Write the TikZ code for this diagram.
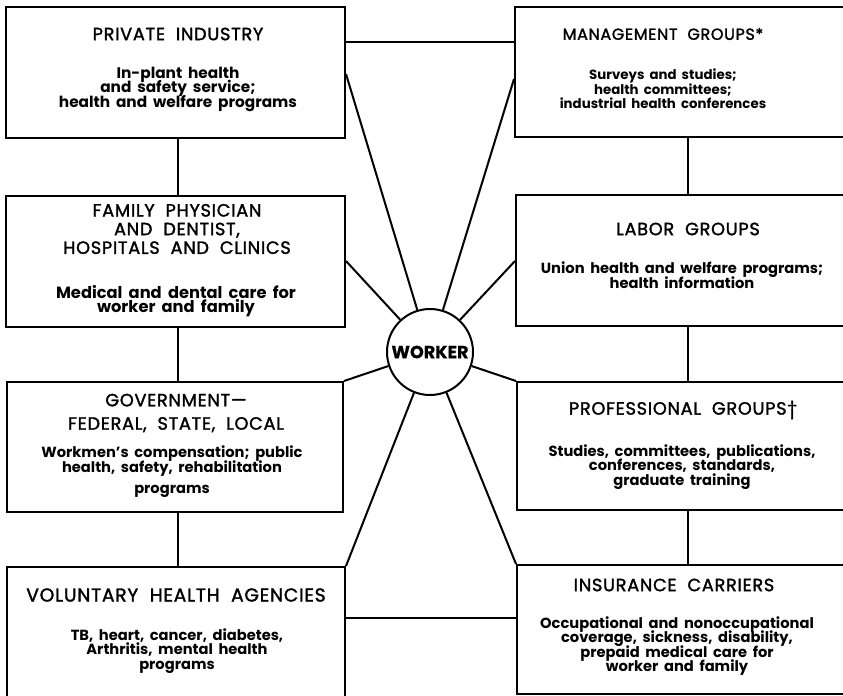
\documentclass[tikz,border=0pt]{standalone}
\usepackage{fontspec}
\setmainfont{Poppins}
\newfontfamily\ttlfont{Poppins}[LetterSpace=4, WordSpace=2, FakeBold=1.6]
\newfontfamily\bodyfont{Poppins}[WordSpace=1.8]
\newfontfamily\hubfont{Poppins}[FakeBold=0.5]
\newcommand\tightlines{\lineskiplimit=-20pt\relax\lineskip=0pt\relax}
\usetikzlibrary{fit}
\begin{document}
\begin{tikzpicture}[x=0.75pt,y=-0.75pt,
  box/.style={draw, line width=1.5pt, inner sep=0pt, rectangle},
  link/.style={line width=1.5pt},
  tt/.style={align=center, inner sep=0pt, font=\ttlfont\fontsize{#1}{14}\selectfont\tightlines},
  tt/.default=13.3,
  bd/.style={align=center, inner sep=0pt, font=\bodyfont\bfseries\fontsize{#1}{10.9}\selectfont\tightlines},
  bd/.default=11,
  hub/.style={circle, draw, line width=1.5pt, minimum size=64.5pt, inner sep=0pt,
    fill=white, font=\hubfont\bfseries\fontsize{13.2}{15}\selectfont}]
\useasboundingbox (0,0) rectangle (843,696);
\fill[white] (0,0) rectangle (843,696);
\clip (0,0) rectangle (843,696);

% boxes
\node[box, fit={(6,7)(345,138)}] (pi) {};
\node[box, fit={(6,196)(345,327)}] (fp) {};
\node[box, fit={(7,382)(343,512)}] (gv) {};
\node[box, fit={(7,567)(345,710)}] (va) {};
\node[box, fit={(515,7)(870,137)}] (mg) {};
\node[box, fit={(516,195)(870,326)}] (lb) {};
\node[box, fit={(517,382)(870,510)}] (pg) {};
\node[box, fit={(517,565)(870,694)}] (ic) {};

% hub
\node[hub] (w) at (430,352) {WORKER};

% level coordinates
\coordinate (yTop) at (0,42);
\coordinate (yBot) at (0,618);
\coordinate (xL) at (178,0);
\coordinate (xR) at (688,0);

% horizontal links
\draw[link] (pi.east |- yTop) -- (mg.west |- yTop);
\draw[link] (va.east |- yBot) -- (ic.west |- yBot);

% vertical links
\draw[link] (pi.south -| xL) -- (fp.north -| xL);
\draw[link] (fp.south -| xL) -- (gv.north -| xL);
\draw[link] (gv.south -| xL) -- (va.north -| xL);
\draw[link] (mg.south -| xR) -- (lb.north -| xR);
\draw[link] (lb.south -| xR) -- (pg.north -| xR);
\draw[link] (pg.south -| xR) -- (ic.north -| xR);

% spokes
\path (pi.north east) ++(0,68) coordinate (s1);
\path (fp.north east) ++(0,66) coordinate (s2);
\path (mg.north west) ++(0,73) coordinate (s5);
\path (lb.north west) ++(0,67) coordinate (s6);
\draw[link] (s1) -- (w);
\draw[link] (s2) -- (w);
\draw[link] (gv.north east) -- (w);
\draw[link] (va.north east) -- (w);
\draw[link] (s5) -- (w);
\draw[link] (s6) -- (w);
\draw[link] (pg.north west) -- (w);
\draw[link] (ic.north west) -- (w);

% texts
\node[tt] (piT) at (178,34) {PRIVATE INDUSTRY};
\node[bd=11.5] (piB) at (178,89) {In-plant health\\and safety service;\\health and welfare programs};

\node[tt] (fpT) at (177,229) {FAMILY PHYSICIAN\\AND DENTIST,\\HOSPITALS AND CLINICS};
\node[bd=12.2] (fpB) at (176,301) {Medical and dental care for\\worker and family};

\node[tt] (gvT) at (176,413) {GOVERNMENT—\\[3.5pt]FEDERAL, STATE, LOCAL};
\node[bd] (gvB) at (172,472) {Workmen’s compensation; public\\health, safety, rehabilitation\\[5pt]programs};

\node[tt=14] (vaT) at (176,595) {VOLUNTARY HEALTH AGENCIES};
\node[bd] (vaB) at (177,651) {TB, heart, cancer, diabetes,\\Arthritis, mental health\\programs};

\node[tt=12] (mgT) at (663,34) {MANAGEMENT GROUPS*};
\node[bd=10] (mgB) at (663,89) {Surveys and studies;\\health committees;\\industrial health conferences};

\node[tt] (lbT) at (688,229) {LABOR GROUPS};
\node[bd] (lbB) at (682,275) {Union health and welfare programs;\\health information};

\node[tt] (pgT) at (683,410) {PROFESSIONAL GROUPS†};
\node[bd] (pgB) at (682,467) {Studies, committees, publications,\\conferences, standards,\\graduate training};

\node[tt] (icT) at (674,585) {INSURANCE CARRIERS};
\node[bd] (icB) at (677,646) {Occupational and nonoccupational\\coverage, sickness, disability,\\prepaid medical care for\\worker and family};
\end{tikzpicture}
\end{document}
